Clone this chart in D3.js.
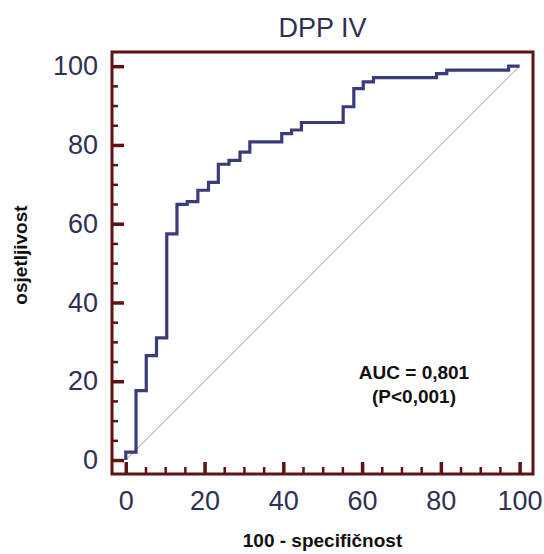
<!DOCTYPE html>
<html>
<head>
<meta charset="utf-8">
<script src="https://cdn.jsdelivr.net/npm/d3@7"></script>
<style>
  body { margin: 0; background: #fff; }
  svg { display: block; font-family: "Liberation Sans", Arial, sans-serif; }
</style>
</head>
<body>
<div id="chart"></div>
<script>
/* DATA - ROC corner points */
const fpr = [0, 2.6, 5.2, 7.8, 10.4, 13.0, 15.6, 18.3, 21.0, 23.5, 26.2, 29.0, 31.5, 39.6, 42.1, 44.6, 55.2, 57.9, 60.3, 62.9, 78.9, 81.5, 97.2, 100];
const tpr = [0, 2.0, 17.6, 26.5, 31.0, 57.4, 64.9, 65.6, 68.5, 70.5, 75.1, 76.1, 78.2, 80.8, 82.9, 83.8, 85.7, 89.7, 94.3, 96.0, 97.1, 98.1, 99.0, 100];
const majorTicks = [0, 20, 40, 60, 80, 100];
const minorTicks = d3.range(0, 101, 5).filter(v => v % 20 !== 0);
const title = "DPP IV";
const xTitle = "100 - specifičnost";
const yTitle = "osjetljivost";
const aucLines = ["AUC = 0,801", "(P<0,001)"];

/* LAYOUT */
const W = 544, H = 554;
const margin = {left: 112, top: 52};
const pw = 421, ph = 422;
const frameColor = "#5e1212";
const lineColor = "#3a3b7b";
const labelColor = "#2f3152";

const svg = d3.select("#chart").append("svg")
  .attr("width", W)
  .attr("height", H);

const g = svg.append("g")
  .attr("transform", `translate(${margin.left},${margin.top})`);

const x = d3.scaleLinear().domain([-3.5, 103.4]).range([0, pw]);
const y = d3.scaleLinear().domain([-3.55, 103.6]).range([ph, 0]);

// reference diagonal
g.append("line")
  .attr("x1", x(0)).attr("y1", y(0))
  .attr("x2", x(100)).attr("y2", y(100))
  .attr("stroke", "#b08888")
  .attr("stroke-width", 0.9);

// roc curve
const pts = fpr.map((f, i) => [f, tpr[i]]);
const line = d3.line()
  .x(d => x(d[0]))
  .y(d => y(d[1]))
  .curve(d3.curveStepBefore);

g.append("path")
  .datum(pts)
  .attr("d", line)
  .attr("fill", "none")
  .attr("stroke", lineColor)
  .attr("stroke-width", 3.2)
  .attr("stroke-linejoin", "miter");

// minor ticks (inward)
const xMinor = g.append("g").attr("transform", `translate(0,${ph})`)
  .call(d3.axisBottom(x).tickValues(minorTicks).tickSize(-7).tickFormat(""));
const yMinor = g.append("g")
  .call(d3.axisLeft(y).tickValues(minorTicks).tickSize(-6).tickFormat(""));

// major ticks + labels
const xAxis = g.append("g").attr("transform", `translate(0,${ph})`)
  .call(d3.axisBottom(x).tickValues(majorTicks).tickSize(-12).tickPadding(17));
const yAxis = g.append("g")
  .call(d3.axisLeft(y).tickValues(majorTicks).tickSize(-12).tickPadding(14));

[xMinor, yMinor, xAxis, yAxis].forEach(a => {
  a.select(".domain").remove();
  a.selectAll("line").attr("stroke", frameColor).attr("stroke-width", 2.5);
});
[xAxis, yAxis].forEach(a => {
  a.selectAll("line").attr("stroke-width", 3.5);
  a.selectAll("text")
    .attr("fill", labelColor)
    .style("font-size", "27px")
    .style("font-family", "'Liberation Sans', Arial, sans-serif");
});

// frame
g.append("rect")
  .attr("x", 0).attr("y", 0)
  .attr("width", pw).attr("height", ph)
  .attr("fill", "none")
  .attr("stroke", frameColor)
  .attr("stroke-width", 3);

// title
svg.append("text")
  .attr("x", margin.left + pw / 2)
  .attr("y", 37)
  .attr("text-anchor", "middle")
  .attr("fill", labelColor)
  .style("font-size", "27px")
  .text(title);

// axis titles
svg.append("text")
  .attr("x", margin.left + pw / 2)
  .attr("y", 547)
  .attr("text-anchor", "middle")
  .attr("fill", "#111")
  .style("font-size", "19px")
  .style("font-weight", "bold")
  .text(xTitle);

svg.append("text")
  .attr("transform", "translate(27,255) rotate(-90)")
  .attr("text-anchor", "middle")
  .attr("fill", "#111")
  .style("font-size", "19px")
  .style("font-weight", "bold")
  .text(yTitle);

// AUC annotation
svg.append("g").selectAll("text")
  .data(aucLines)
  .join("text")
  .attr("x", 414)
  .attr("y", (d, i) => 379 + i * 24)
  .attr("text-anchor", "middle")
  .attr("fill", "#111")
  .style("font-size", "19px")
  .style("font-weight", "bold")
  .text(d => d);
</script>
</body>
</html>
